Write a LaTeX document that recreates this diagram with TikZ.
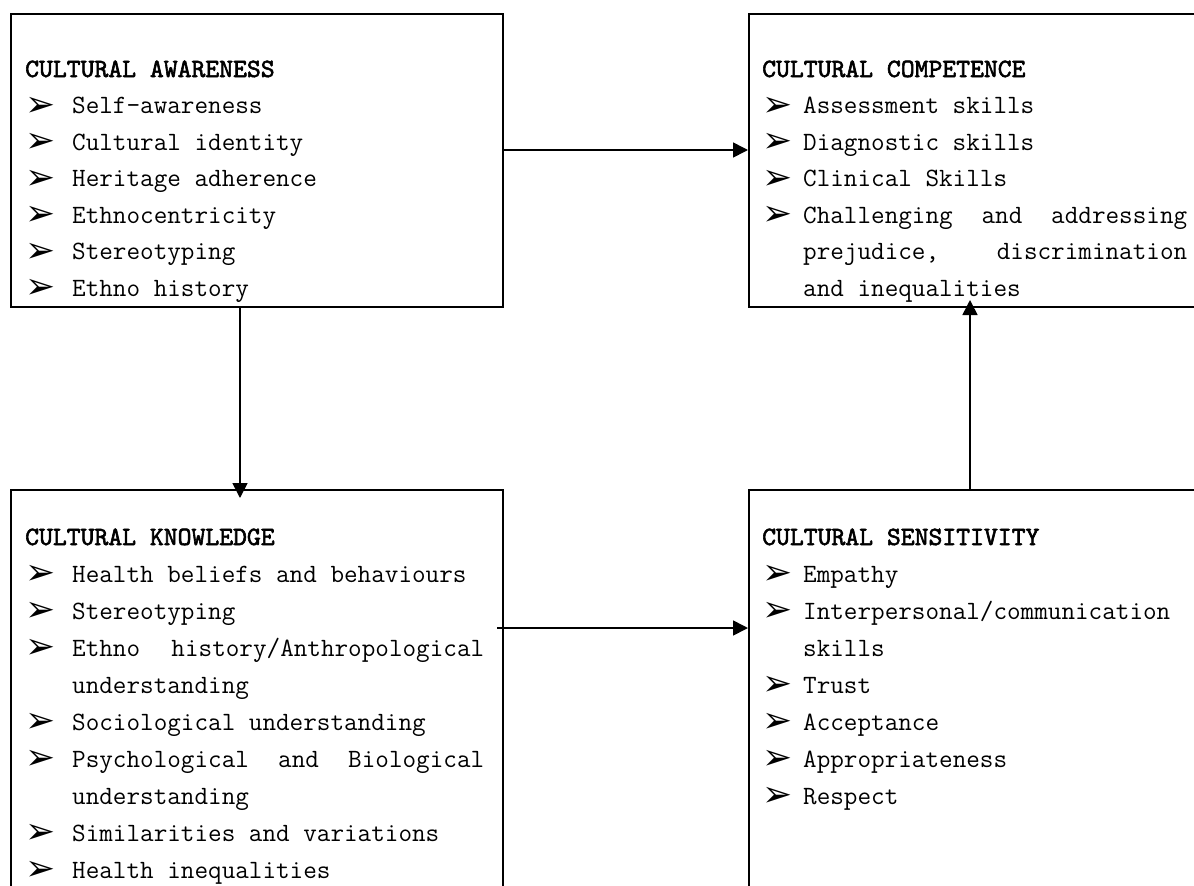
\documentclass[tikz,border=0pt]{standalone}
\usepackage{fontspec}
\newfontfamily\dv{DejaVu Sans}
\newfontfamily\ttlf{lmmono10-regular.otf}[FakeBold=2.2]
\usetikzlibrary{arrows.meta}
\newcommand\bul{\raisebox{-2.5pt}{\dv\fontsize{36}{36}\selectfont ➢}}
\newlength\bw
\newcommand\itm[1]{\makebox[\bw][l]{\bul}#1}
\newcommand\cnt[1]{\hspace*{\bw}#1}
\newcommand\ttl[1]{{\ttlf #1}}
\begin{document}
\begin{tikzpicture}[x=1pt,y=-1pt,
  box/.style={draw, line width=2.2pt, anchor=north west, inner sep=0pt},
  txt/.style={anchor=base west, inner sep=0pt},
  arr/.style={line width=1.6pt, -{Triangle[length=15pt,width=15pt]}}]
\useasboundingbox (0,0) rectangle (1194,886);
\clip (0,0) rectangle (1194,886);
\node[box, minimum width=492pt, minimum height=293pt] (b1) at (10,13) {};
\node[box, minimum width=600pt, minimum height=293pt] (b2) at (748,13) {};
\node[box, minimum width=492pt, minimum height=500pt] (b3) at (10,489) {};
\node[box, minimum width=600pt, minimum height=500pt] (b4) at (748,489) {};
% texts
\node[txt] (t1) at (25,77) {\parbox[t]{470pt}{\ttfamily\fontsize{26.4}{36.5}\selectfont\setlength\bw{47pt}%
\ttl{CULTURAL AWARENESS}\\
\itm{Self-awareness}\\
\itm{Cultural identity}\\
\itm{Heritage adherence}\\
\itm{Ethnocentricity}\\
\itm{Stereotyping}\\
\itm{Ethno history}}};
\node[txt] (t2) at (762,77) {\parbox[t]{440pt}{\ttfamily\fontsize{26.4}{36.5}\selectfont\setlength\bw{41pt}%
\ttl{CULTURAL COMPETENCE}\\
\itm{Assessment skills}\\
\itm{Diagnostic skills}\\
\itm{Clinical Skills}\\
\itm{\hbox to 384pt{Challenging \hfill and \hfill addressing}}\\
\cnt{\hbox to 384pt{prejudice, \hfill discrimination}}\\
\cnt{and inequalities}}};
\node[txt] (t3) at (25,545) {\parbox[t]{470pt}{\ttfamily\fontsize{26.4}{37}\selectfont\setlength\bw{47pt}%
\ttl{CULTURAL KNOWLEDGE}\\
\itm{Health beliefs and behaviours}\\
\itm{Stereotyping}\\
\itm{\hbox to 412pt{Ethno \hfill history/Anthropological}}\\
\cnt{understanding}\\
\itm{Sociological understanding}\\
\itm{\hbox to 412pt{Psychological \hfill and \hfill Biological}}\\
\cnt{understanding}\\
\itm{Similarities and variations}\\
\itm{Health inequalities}}};
\node[txt] (t4) at (762,545) {\parbox[t]{440pt}{\ttfamily\fontsize{26.4}{37}\selectfont\setlength\bw{41pt}%
\ttl{CULTURAL SENSITIVITY}\\
\itm{Empathy}\\
\itm{Interpersonal/communication}\\
\cnt{skills}\\
\itm{Trust}\\
\itm{Acceptance}\\
\itm{Appropriateness}\\
\itm{Respect}}};
% arrows
\coordinate (a1) at (502,150);
\draw[arr] (a1) -- (a1 -| b2.west);
\coordinate (a2) at (240,308);
\coordinate (a2e) at (240,498);
\draw[arr] (a2) -- (a2e);
\coordinate (a3) at (497,628);
\draw[arr] (a3) -- (a3 -| b4.west);
\coordinate (a4) at (970,490);
\coordinate (a4e) at (970,300);
\draw[arr] (a4) -- (a4e);
\end{tikzpicture}
\end{document}
